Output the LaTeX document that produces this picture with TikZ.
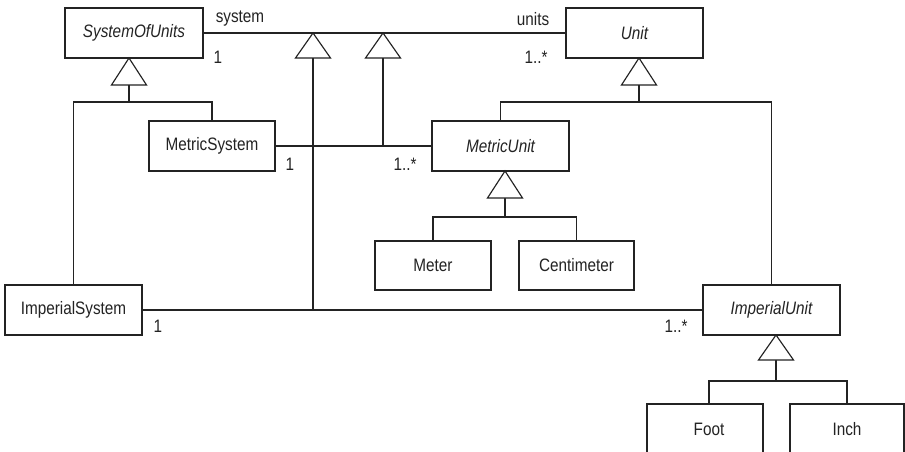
\documentclass[tikz,border=0pt]{standalone}
\usepackage{fontspec}
\setmainfont{Liberation Sans}[FakeStretch=0.85]
\definecolor{ink}{RGB}{35,35,35}
\begin{document}
\begin{tikzpicture}[x=1pt,y=-1pt,
  txt/.style={font=\fontsize{18}{21}\selectfont, text=ink},
  box/.style={txt, draw=ink, fill=white, line width=1.15pt, minimum height=50pt, inner sep=0pt},
  absbox/.style={box, font=\fontsize{18}{21}\selectfont\itshape},
  lbl/.style={txt, inner sep=0pt},
  conn/.style={draw=ink, line width=1.15pt},
  gen/.style={draw=ink, fill=white, line width=1.15pt, line join=miter}]
\useasboundingbox (0,0) rectangle (905,452);
\fill[white] (0,0) rectangle (905,452);

% classes
\node[absbox, minimum width=138pt] (sou) at (134,33) {SystemOfUnits};
\node[absbox, minimum width=137pt] (unit) at (634.5,33) {Unit};
\node[box, minimum width=126pt] (ms) at (212,146) {MetricSystem};
\node[absbox, minimum width=137pt] (mu) at (500.5,146) {MetricUnit};
\node[box, minimum width=116pt, minimum height=49pt] (meter) at (433,265.5) {Meter};
\node[box, minimum width=115pt, minimum height=49pt] (cm) at (576.5,265.5) {Centimeter};
\node[box, minimum width=137pt] (is) at (73.5,310) {ImperialSystem};
\node[absbox, minimum width=137pt] (iu) at (771.5,310) {ImperialUnit};
\node[box, minimum width=116pt, text width=116pt, align=center] (foot) at (705,429) {\hspace*{8pt}Foot};
\node[box, minimum width=114pt] (inch) at (847,429) {Inch};

% associations
\draw[conn] (sou.east) -- (unit.west);
\draw[conn] (ms.east) -- (mu.west);
\draw[conn] (is.east) -- (iu.west);

% association specialisations
\coordinate (a1) at (313,33);
\coordinate (a2) at (383,33);
\draw[conn] (313,57) -- (313,310);
\draw[conn] (383,57) -- (383,146);
\draw[gen] (a1) -- ++(-17.5,25) -- ++(35,0) -- cycle;
\draw[gen] (a2) -- ++(-17.5,25) -- ++(35,0) -- cycle;

% generalisation: SystemOfUnits
\draw[conn] (129,85) -- (129,102);
\draw[conn] (129,102) -| (ms.north);
\draw[conn] (129,102) -| (is.north);
\draw[gen] (129,58) -- ++(-17.5,27) -- ++(35,0) -- cycle;

% generalisation: Unit
\draw[conn] (639,85) -- (639,102);
\draw[conn] (639,102) -| (mu.north);
\draw[conn] (639,102) -| (iu.north);
\draw[gen] (639,58) -- ++(-17.5,27) -- ++(35,0) -- cycle;

% generalisation: MetricUnit
\draw[conn] (505,198) -- (505,217);
\draw[conn] (505,217) -| (meter.north);
\draw[conn] (505,217) -| (cm.north);
\draw[gen] (505,171) -- ++(-17.5,27) -- ++(35,0) -- cycle;

% generalisation: ImperialUnit
\draw[conn] (776,360) -- (776,381);
\draw[conn] (776,381) -| ([xshift=4pt]foot.north);
\draw[conn] (776,381) -| (inch.north);
\draw[gen] (776,335) -- ++(-17.5,25) -- ++(35,0) -- cycle;

% labels
\node[lbl] (l1) at (240,19) {system};
\node[lbl] (l2) at (218,57) {1};
\node[lbl] (l3) at (533,19) {units};
\node[lbl] (l4) at (536,57) {1..*};
\node[lbl] (l5) at (290,164) {1};
\node[lbl] (l6) at (405,164) {1..*};
\node[lbl] (l7) at (158,326) {1};
\node[lbl] (l8) at (676,326) {1..*};
\end{tikzpicture}
\end{document}
